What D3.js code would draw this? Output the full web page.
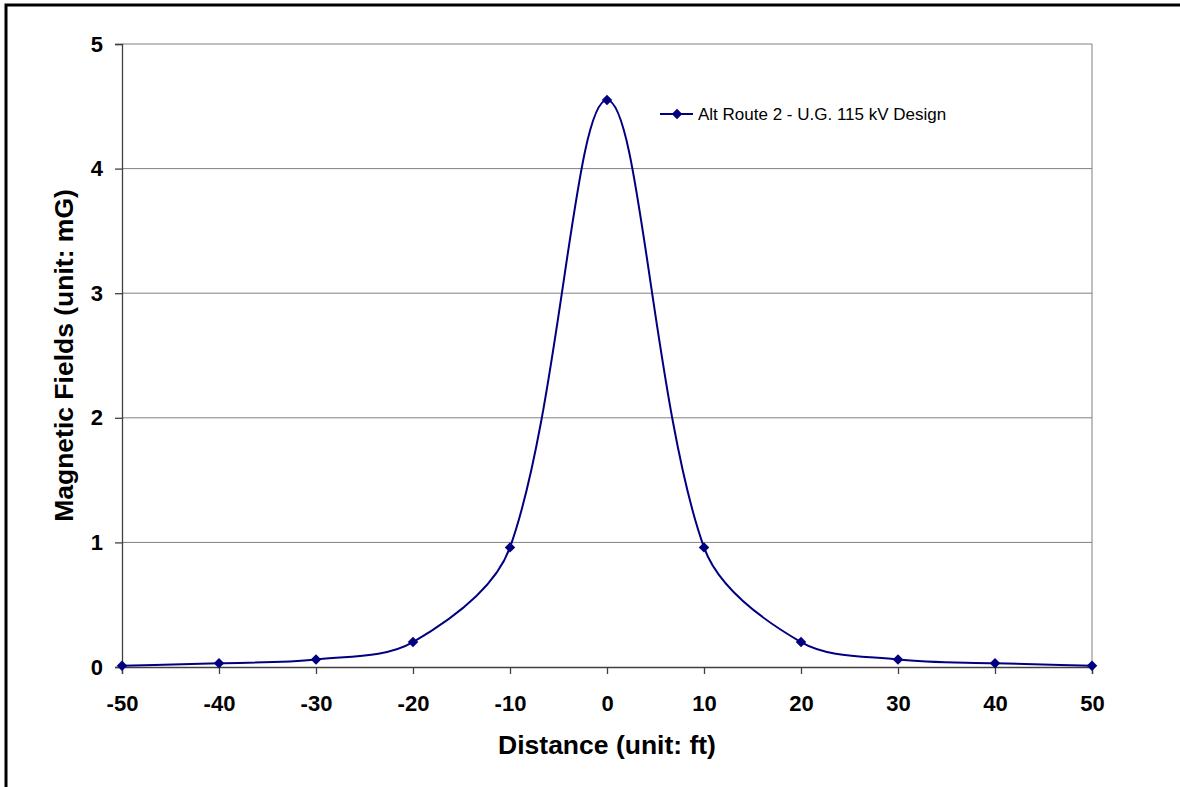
<!DOCTYPE html>
<html>
<head>
<meta charset="utf-8">
<script src="https://cdn.jsdelivr.net/npm/d3@7"></script>
<style>
  html, body { margin: 0; padding: 0; background: #fff; }
  svg { display: block; }
</style>
</head>
<body>
<svg id="chart" width="1180" height="787"></svg>
<script>
// ---- data ----
const distances = [-50, -40, -30, -20, -10, 0, 10, 20, 30, 40, 50];
const fieldValues = [0.01, 0.03, 0.06, 0.2, 0.96, 4.55, 0.96, 0.2, 0.06, 0.03, 0.01];
const xTicks = [-50, -40, -30, -20, -10, 0, 10, 20, 30, 40, 50];
const yTicks = [0, 1, 2, 3, 4, 5];
const seriesName = "Alt Route 2 - U.G. 115 kV Design";
const xTitle = "Distance (unit: ft)";
const yTitle = "Magnetic Fields (unit: mG)";

const svg = d3.select("#chart");
const font = "'Liberation Sans', Arial, sans-serif";
const navy = "#000080";

// outer frame (right/bottom edges lie outside the picture)
svg.append("rect")
  .attr("x", 6).attr("y", 5).attr("width", 1200).attr("height", 820)
  .attr("fill", "none").attr("stroke", "#000").attr("stroke-width", 3);

const x = d3.scaleLinear().domain([-50, 50]).range([122, 1092]);
const y = d3.scaleLinear().domain([0, 5]).range([667, 44]);

// gridlines
svg.append("g").selectAll("line")
  .data(yTicks.filter(d => d > 0))
  .join("line")
  .attr("x1", x(-50)).attr("x2", x(50))
  .attr("y1", d => y(d)).attr("y2", d => y(d))
  .attr("stroke", "#808080").attr("stroke-width", 1);

// right border of plot area
svg.append("line")
  .attr("x1", x(50)).attr("x2", x(50)).attr("y1", y(5)).attr("y2", y(0))
  .attr("stroke", "#808080").attr("stroke-width", 1);

const fmt = d => String(d);

// y axis
const yAxis = d3.axisLeft(y).tickValues(yTicks).tickSize(7).tickPadding(12).tickFormat(fmt);
const gy = svg.append("g").attr("transform", `translate(${x(-50)},0)`).call(yAxis);
gy.select(".domain").attr("stroke", "#404040").attr("stroke-width", 1.3);
gy.selectAll(".tick line").attr("stroke", "#404040").attr("stroke-width", 1.3);
gy.selectAll(".tick text")
  .attr("font-family", font).attr("font-weight", "bold").attr("font-size", 22).attr("fill", "#000");

// x axis
const xAxis = d3.axisBottom(x).tickValues(xTicks).tickSize(7).tickPadding(21).tickFormat(fmt);
const gx = svg.append("g").attr("transform", `translate(0,${y(0)})`).call(xAxis);
gx.select(".domain").attr("stroke", "#404040").attr("stroke-width", 1.3);
gx.selectAll(".tick line").attr("stroke", "#404040").attr("stroke-width", 1.3);
gx.selectAll(".tick text")
  .attr("font-family", font).attr("font-weight", "bold").attr("font-size", 22).attr("fill", "#000");

// titles
svg.append("text")
  .attr("x", (x(-50) + x(50)) / 2).attr("y", 754)
  .attr("text-anchor", "middle")
  .attr("font-family", font).attr("font-weight", "bold").attr("font-size", 26.5)
  .text(xTitle);

svg.append("text")
  .attr("transform", `translate(73,${(y(0) + y(5)) / 2}) rotate(-90)`)
  .attr("text-anchor", "middle")
  .attr("font-family", font).attr("font-weight", "bold").attr("font-size", 26.5)
  .text(yTitle);

// series: spreadsheet-style smoothed line (Bezier with distance-weighted tangents)
const pts = distances.map((d, i) => [x(d), y(fieldValues[i])]);
function smoothPath(p) {
  const path = d3.path();
  const dist = (a, b) => Math.hypot(b[0] - a[0], b[1] - a[1]);
  path.moveTo(p[0][0], p[0][1]);
  for (let i = 0; i < p.length - 1; i++) {
    const p0 = p[Math.max(i - 1, 0)], p1 = p[i], p2 = p[i + 1], p3 = p[Math.min(i + 2, p.length - 1)];
    const d01 = dist(p0, p1), d12 = dist(p1, p2), d23 = dist(p2, p3);
    const f1 = d12 / (d01 + d12) / 3;
    const f2 = d12 / (d12 + d23) / 3;
    const c1 = [p1[0] + (p2[0] - p0[0]) * f1, p1[1] + (p2[1] - p0[1]) * f1];
    const c2 = [p2[0] - (p3[0] - p1[0]) * f2, p2[1] - (p3[1] - p1[1]) * f2];
    path.bezierCurveTo(c1[0], c1[1], c2[0], c2[1], p2[0], p2[1]);
  }
  return path.toString();
}
svg.append("path")
  .attr("d", smoothPath(pts))
  .attr("fill", "none").attr("stroke", navy).attr("stroke-width", 2);

const diamond = d3.symbol().type(d3.symbolDiamond2).size(70);
svg.append("g").selectAll("path")
  .data(pts)
  .join("path")
  .attr("transform", d => `translate(${d[0]},${d[1]})`)
  .attr("d", diamond)
  .attr("fill", navy);

// legend
const lg = svg.append("g").attr("transform", "translate(660,114)");
lg.append("line").attr("x1", 0).attr("x2", 33).attr("y1", 0).attr("y2", 0)
  .attr("stroke", navy).attr("stroke-width", 2);
lg.append("path").attr("transform", "translate(17,0)").attr("d", diamond).attr("fill", navy);
lg.append("text").attr("x", 38).attr("y", 6)
  .attr("font-family", font).attr("font-size", 17).attr("fill", "#000")
  .text(seriesName);
</script>
</body>
</html>
